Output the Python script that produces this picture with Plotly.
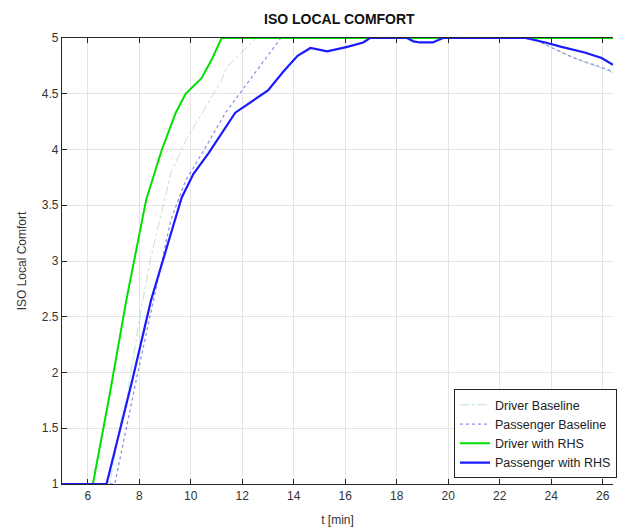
import plotly.graph_objects as go

# ---- data ----
drv_rhs_x = [5, 6.2, 6.85, 7.5, 8.27, 8.6, 8.88, 9.42, 9.8, 10.42, 10.8, 11.2, 26.4]
drv_rhs_y = [1, 1, 1.8, 2.65, 3.55, 3.8, 4.0, 4.33, 4.5, 4.64, 4.8, 5.0, 5.0]

pas_rhs_x = [5, 6.73, 7.73, 8.46, 9.08, 9.65, 10.1, 10.7, 11.73, 12.6, 13.0, 13.6, 14.15, 14.65,
             15.3, 16.08, 16.7, 16.96, 18.4, 18.65, 18.9, 19.4, 19.6, 19.8, 23.0, 23.77, 24.4,
             25.3, 25.96, 26.4]
pas_rhs_y = [1, 1, 1.93, 2.65, 3.13, 3.57, 3.78, 3.97, 4.33, 4.47, 4.53, 4.7, 4.84, 4.91,
             4.88, 4.92, 4.96, 5.0, 5.0, 4.97, 4.96, 4.96, 4.98, 5.0, 5.0, 4.96, 4.92,
             4.87, 4.82, 4.76]

pas_base_x = [5, 7.05, 7.88, 8.55, 9.23, 9.8, 10.45, 11.35, 12.1, 12.8, 13.5, 23.3, 23.77, 24.9, 26.4]
pas_base_y = [1, 1, 1.93, 2.65, 3.37, 3.72, 3.97, 4.33, 4.56, 4.78, 5.0, 5.0, 4.94, 4.82, 4.7]

drv_base_x = [5, 6.85, 7.35, 7.5, 8.1, 8.42, 9.23, 9.8, 11.2, 11.4, 12.55, 23.3, 23.77, 24.9, 26.4]
drv_base_y = [1, 1, 1.64, 1.75, 2.6, 3.0, 3.79, 4.08, 4.62, 4.74, 5.0, 5.0, 4.94, 4.82, 4.69]

x_ticks = [6, 8, 10, 12, 14, 16, 18, 20, 22, 24, 26]
y_ticks = [1, 1.5, 2, 2.5, 3, 3.5, 4, 4.5, 5]

fig = go.Figure()
fig.add_trace(go.Scatter(x=drv_base_x, y=drv_base_y, mode="lines", name="Driver Baseline",
                         line=dict(color="rgba(110,190,150,0.45)", width=1, dash="dashdot")))
fig.add_trace(go.Scatter(x=pas_base_x, y=pas_base_y, mode="lines", name="Passenger Baseline",
                         line=dict(color="rgba(70,70,220,0.6)", width=1.3, dash="dot")))
fig.add_trace(go.Scatter(x=drv_rhs_x, y=drv_rhs_y, mode="lines", name="Driver with RHS",
                         line=dict(color="#00e000", width=2)))
fig.add_trace(go.Scatter(x=pas_rhs_x, y=pas_rhs_y, mode="lines", name="Passenger with RHS",
                         line=dict(color="#1a1aff", width=2.2)))

fig.update_layout(
    width=617, height=532,
    margin=dict(l=62, r=0, t=38, b=48),
    paper_bgcolor="white", plot_bgcolor="white",
    font=dict(family="Liberation Sans, Arial, sans-serif", size=12, color="#333333"),
    title=dict(text="<b>ISO LOCAL COMFORT</b>", x=0.55, xanchor="center", y=0.965, yanchor="middle",
               font=dict(size=14, color="#111111")),
    showlegend=True,
    legend=dict(x=0.712, y=0.013, xanchor="left", yanchor="bottom",
                bgcolor="white", bordercolor="#222222", borderwidth=1,
                font=dict(size=12.5, color="#222222"), tracegroupgap=0, itemwidth=30),
)
fig.update_xaxes(range=[5, 26.4], tickvals=x_ticks, ticktext=[str(v) for v in x_ticks],
                 showgrid=True, gridcolor="#e4e4e4", gridwidth=1,
                 showline=True, linecolor="#262626", linewidth=1.2, mirror="ticks",
                 ticks="inside", ticklen=5, tickcolor="#262626", zeroline=False,
                 title=dict(text="t [min]", font=dict(size=12), standoff=14))
fig.update_yaxes(range=[1, 5], tickvals=y_ticks, ticktext=[str(v) for v in y_ticks],
                 showgrid=True, gridcolor="#e4e4e4", gridwidth=1,
                 showline=True, linecolor="#262626", linewidth=1.2, mirror=False,
                 ticks="inside", ticklen=5, tickcolor="#262626", zeroline=False,
                 title=dict(text="ISO Local Comfort", font=dict(size=12), standoff=12))

fig.write_html("out.html")
